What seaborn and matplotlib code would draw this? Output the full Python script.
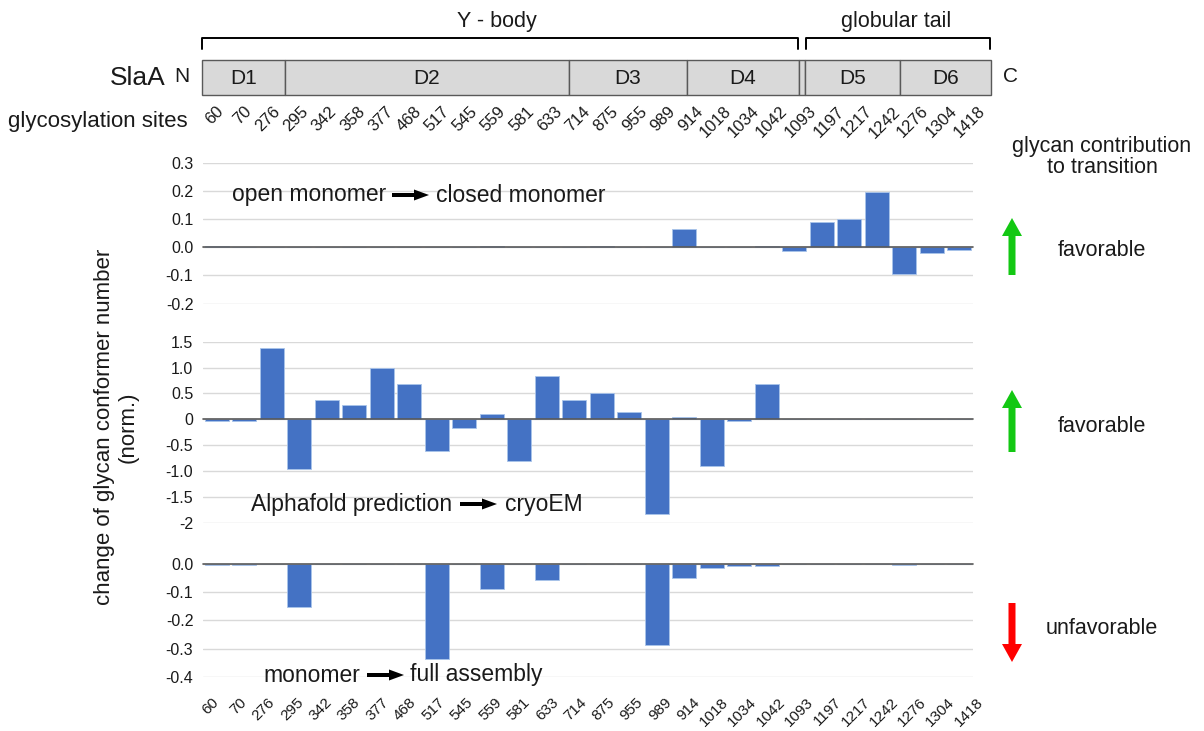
import numpy as np
import pandas as pd
import matplotlib
matplotlib.use("Agg")
import matplotlib.pyplot as plt
import seaborn as sns
from matplotlib.patches import Rectangle, FancyArrow
from matplotlib import font_manager

# ---------------- data ----------------
sites = ["60", "70", "276", "295", "342", "358", "377", "468", "517", "545",
         "559", "581", "633", "714", "875", "955", "989", "914", "1018", "1034",
         "1042", "1093", "1197", "1217", "1242", "1276", "1304", "1418"]

open_to_closed = [0.003, 0, 0, 0, 0, 0, 0, 0, 0, 0,
                  0.003, 0, 0, 0, 0.003, 0, 0, 0.065, 0, 0,
                  0.003, -0.013, 0.09, 0.10, 0.197, -0.095, -0.019, -0.008]

alphafold_to_cryoem = [-0.04, -0.04, 1.38, -0.97, 0.38, 0.28, 1.0, 0.69, -0.61, -0.16,
                       0.10, -0.81, 0.83, 0.38, 0.50, 0.14, -1.83, 0.05, -0.90, -0.03,
                       0.69, 0, 0, 0, 0, 0, 0, 0]

monomer_to_assembly = [-0.005, -0.005, 0, -0.154, 0, 0, 0, 0, -0.338, 0,
                       -0.088, 0, -0.056, 0, 0, 0, -0.286, -0.049, -0.013, -0.006,
                       -0.006, 0, 0, 0, 0, -0.004, 0, 0]

panel_ticks = [
    [0.3, 0.2, 0.1, 0.0, -0.1, -0.2],
    [1.5, 1.0, 0.5, 0.0, -0.5, -1.0, -1.5, -2.0],
    [0.0, -0.1, -0.2, -0.3, -0.4],
]
panel_ticklabels = [
    ["0.3", "0.2", "0.1", "0.0", "-0.1", "-0.2"],
    ["1.5", "1.0", "0.5", "0", "-0.5", "-1.0", "-1.5", "-2"],
    ["0.0", "-0.1", "-0.2", "-0.3", "-0.4"],
]
panel_titles = [("open monomer", "closed monomer"),
                ("Alphafold prediction", "cryoEM"),
                ("monomer", "full assembly")]
contribution = ["favorable", "favorable", "unfavorable"]

domains = ["D1", "D2", "D3", "D4", "", "D5", "D6"]

# ---------------- style ----------------
sns.set_theme(style="white")
plt.rcParams["font.family"] = ["Liberation Sans", "DejaVu Sans"]

installed = {f.name for f in font_manager.fontManager.ttflist}
if "Liberation Sans Narrow" in installed:
    narrow = ["Liberation Sans Narrow", "Liberation Sans"]
    tick_fs, cat_fs, cat_fs_bottom = 12.5, 13, 12
else:
    narrow = ["Liberation Sans", "DejaVu Sans"]
    tick_fs, cat_fs, cat_fs_bottom = 11.5, 12, 11

W, H = 1204, 731
fig = plt.figure(figsize=(W / 100, H / 100), dpi=100)


def pos(l, t, r, b):
    return [l / W, 1 - b / H, (r - l) / W, (b - t) / H]


axes_px = [(203, 162.7, 973, 303.7), (203, 341.7, 973, 522.7), (203, 564, 973, 676.7)]
series = [open_to_closed, alphafold_to_cryoem, monomer_to_assembly]
bar_color = "#4472C4"
txt = "#1a1a1a"

for k, (vals, box) in enumerate(zip(series, axes_px)):
    ax = fig.add_axes(pos(*box))
    df = pd.DataFrame({"site": sites, "value": vals})
    sns.barplot(data=df, x="site", y="value", order=sites, color=bar_color,
                saturation=1, width=0.86, edgecolor="#a9c4ea", linewidth=0.6, ax=ax)
    ax.set_xlim(-0.5, len(sites) - 0.5)
    ticks = panel_ticks[k]
    ax.set_ylim(min(ticks), max(ticks))
    ax.set_yticks(ticks)
    ax.set_yticklabels(panel_ticklabels[k], family=narrow, fontsize=tick_fs, color=txt)
    ax.set_xticks([])
    ax.set_xlabel("")
    ax.set_ylabel("")
    ax.yaxis.grid(True, color="#d9d9d9", lw=1)
    ax.set_axisbelow(True)
    ax.axhline(0, color="#595959", lw=1.2, zorder=3, clip_on=False)
    ax.tick_params(axis="y", length=0, pad=7)
    for sp in ax.spines.values():
        sp.set_visible(False)

# ---------------- overlay (pixel coordinates) ----------------
ov = fig.add_axes([0, 0, 1, 1], zorder=10)
ov.set_xlim(0, W)
ov.set_ylim(H, 0)
ov.axis("off")

# brackets
for x0, x1 in [(201.5, 797.7), (806, 990)]:
    ov.plot([x0, x0, x1, x1], [49, 38, 38, 49], color="black", lw=1.4)
ov.text(497, 22, "Y - body", ha="center", va="center", fontsize=15.5, color=txt)
ov.text(896, 22, "globular tail", ha="center", va="center", fontsize=15.5, color=txt)

# domain bar
edges = [201.5, 285, 568.5, 687, 798.5, 804.6, 900, 990.8]
for name, x0, x1 in zip(domains, edges[:-1], edges[1:]):
    ov.add_patch(Rectangle((x0, 60), x1 - x0, 35, fc="#d9d9d9", ec="#595959", lw=1))
    if name:
        ov.text((x0 + x1) / 2, 78, name, ha="center", va="center", fontsize=15, color=txt)
ov.text(166, 78, "SlaA", ha="right", va="center", fontsize=19, color=txt)
ov.text(182, 77, "N", ha="center", va="center", fontsize=15, color=txt)
ov.text(1011, 77, "C", ha="center", va="center", fontsize=15, color=txt)

# glycosylation site labels
ov.text(8, 122, "glycosylation sites", ha="left", va="center", fontsize=16, color=txt)
for i, s in enumerate(sites):
    ov.text(221.3 + 28.2 * i, 109, s, rotation=45, rotation_mode="anchor",
            ha="right", va="center", fontsize=cat_fs, family=narrow, color=txt)
    ov.text(216.0 + 28.33 * i, 700, s, rotation=45, rotation_mode="anchor",
            ha="right", va="center", fontsize=cat_fs_bottom, family=narrow, color=txt)

# panel annotations
ann = [(386, 436, 392, 195), (452, 505, 460, 504), (360, 410, 367, 675)]
for (left, right), (xr, xl, xa, ya) in zip(panel_titles, ann):
    ov.text(xr, ya, left, ha="right", va="center", fontsize=16.5, color=txt)
    ov.text(xl, ya, right, ha="left", va="center", fontsize=16.5, color=txt)
    ov.add_patch(FancyArrow(xa, ya, 37, 0, width=4, head_width=11, head_length=15,
                            length_includes_head=True, color="black", lw=0))

# y label
ov.text(116, 427, "change of glycan conformer number\n(norm.)", rotation=90,
        ha="center", va="center", fontsize=16, color=txt, linespacing=1.15,
        multialignment="center")

# right side legend
ov.text(1102, 157, "glycan contribution\nto transition", ha="center", va="center",
        fontsize=15.5, color=txt, linespacing=0.95)
arrows = [(275, -57, "#13c813"), (452, -62, "#13c813"), (603, 59, "#ff0000")]
for (y0, dy, c), lab, yt in zip(arrows, contribution, [250, 426, 629]):
    ov.add_patch(FancyArrow(1012, y0, 0, dy, width=7, head_width=20, head_length=18,
                            length_includes_head=True, color=c, lw=0))
    ov.text(1102, yt, lab, ha="center", va="center", fontsize=15.5, color=txt)

fig.savefig("out.png", dpi=100)
